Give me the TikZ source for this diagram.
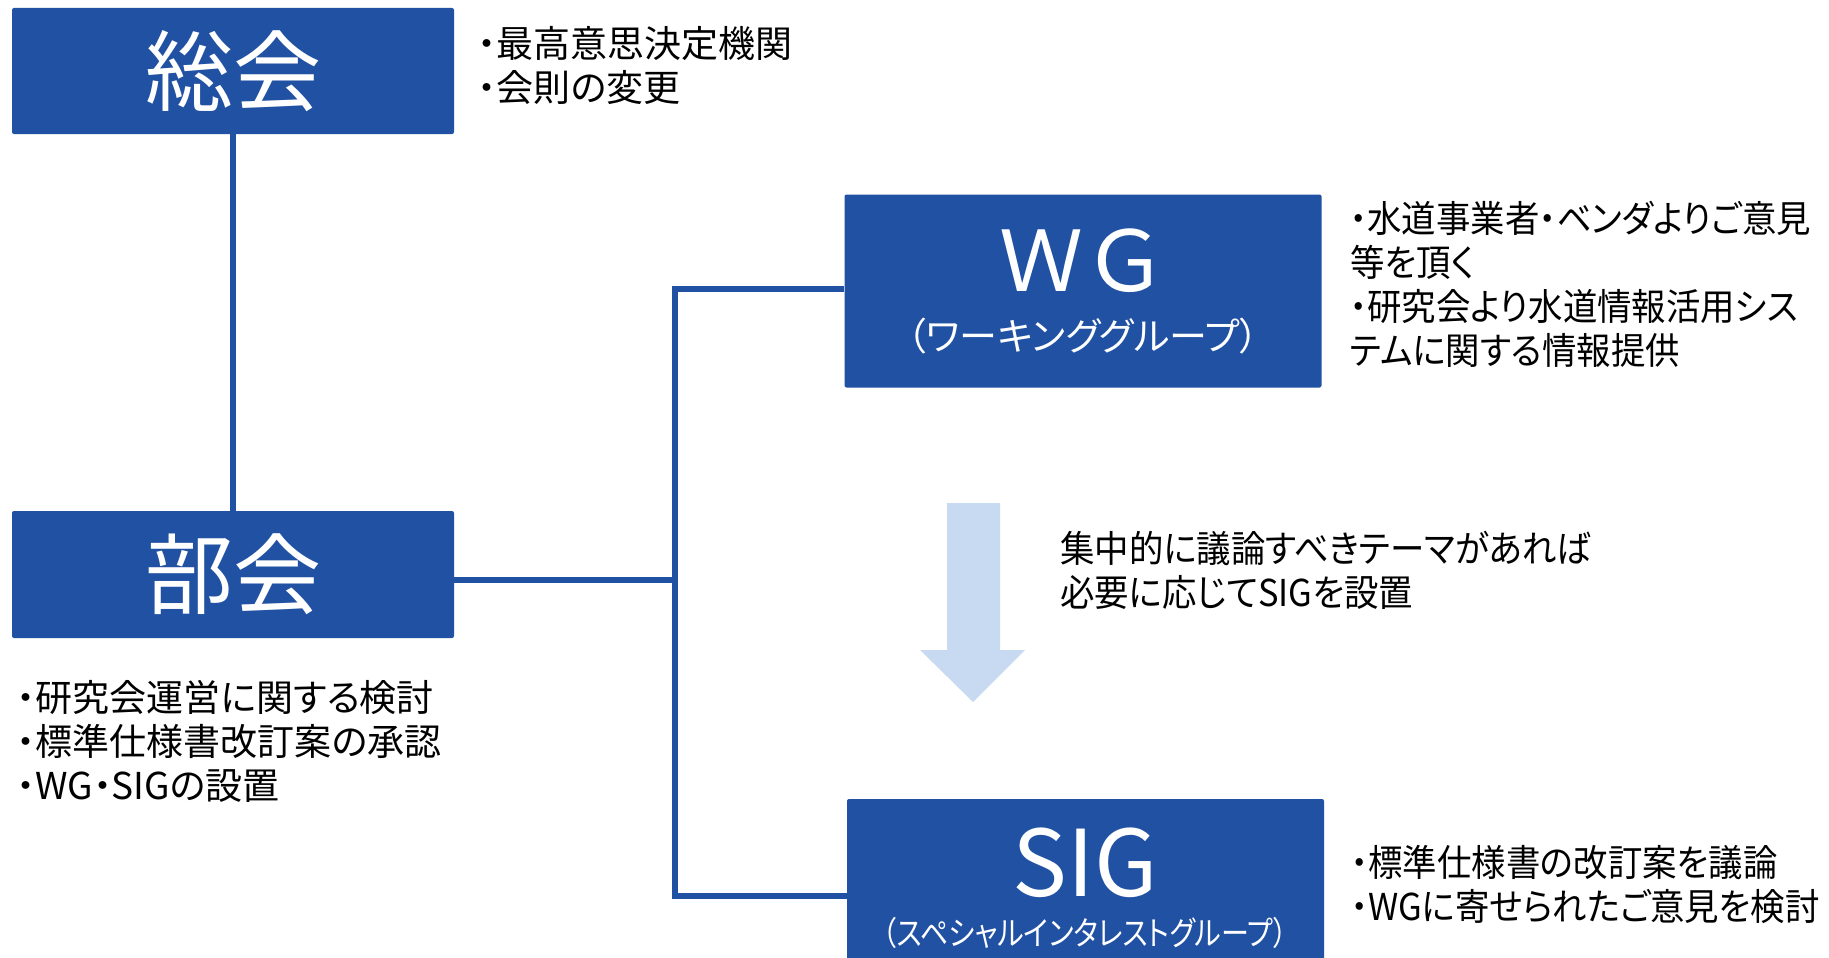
\documentclass[tikz,border=0pt]{standalone}
\usepackage{fontspec}
\setmainfont{Noto Sans CJK JP}[RawFeature=+palt]
\newfontfamily\jpfull{Noto Sans CJK JP}
\newfontfamily\jpdesc{Noto Sans CJK JP}[RawFeature=+palt, FakeStretch=0.93]
\newfontfamily\jpnarrow{Noto Sans CJK JP}[RawFeature=+palt, FakeStretch=0.85]
\definecolor{boxblue}{RGB}{32,81,163}
\definecolor{arrowblue}{RGB}{200,218,242}
\tikzset{
  orgbox/.style={fill=boxblue, draw=none, rounded corners=2pt, text=white, inner sep=0pt},
  link/.style={draw=boxblue, line width=5.5pt},
  desc/.style={anchor=north west, align=left, inner sep=0pt, text=black, font=\jpdesc\fontsize{37}{44}\selectfont},
  descwide/.style={desc, font=\fontsize{37}{44}\selectfont},
  title/.style={text=white, inner sep=0pt},
}
\begin{document}
\begin{tikzpicture}[x=1pt,y=-1pt]
\clip (0,0) rectangle (1829,958);
\coordinate (trunkTop) at (675,289);
\coordinate (trunkMid) at (675,580);
\coordinate (trunkBot) at (675,896);
% boxes
\node[orgbox, minimum width=442pt, minimum height=126pt, font=\jpfull\fontsize{88}{88}\selectfont] (sokai) at (233,71) {総会};
\node[orgbox, minimum width=442pt, minimum height=127pt, font=\jpfull\fontsize{88}{88}\selectfont] (bukai) at (233,574.5) {部会};
\node[orgbox, minimum width=477pt, minimum height=193pt] (wg) at (1083,291) {};
\node[orgbox, minimum width=477pt, minimum height=211pt] (sig) at (1085.5,904.5) {};
% connectors
\draw[link] (sokai.south) -- (bukai.north);
\draw[link] (bukai.east |- trunkMid) -- (trunkMid);
\draw[link] (wg.west |- trunkTop) -- (trunkTop) -- (trunkBot) -- (sig.west |- trunkBot);
% titles
\node[title, font=\jpfull\fontsize{84}{84}\selectfont] (wgt) at (1083,261) {ＷＧ};
\node[title, font=\fontsize{38}{38}\selectfont] (wgs) at (1083,336) {（ワーキンググループ）};
\node[title, font=\jpfull\fontsize{92}{92}\selectfont] (sigt) at (1085,863) {SIG};
\node[title, font=\jpnarrow\fontsize{33}{33}\selectfont] (sigs) at (1085,933) {（スペシャルインタレストグループ）};
% arrow
\fill[arrowblue] (947,503) -- (1000,503) -- (1000,650) -- (1025,650) -- (973,702) -- (920,650) -- (947,650) -- cycle;
% descriptions
\node[descwide] (d1) at (478,26) {・最高意思決定機関\\・会則の変更};
\node[descwide] (d2) at (17,680) {・研究会運営に関する検討\\・標準仕様書改訂案の承認\\・WG・SIGの設置};
\node[desc] (d3) at (1350,201) {・水道事業者・ベンダよりご意見\\等を頂く\\・研究会より水道情報活用シス\\テムに関する情報提供};
\node[desc] (d4) at (1060,531) {集中的に議論すべきテーマがあれば\\必要に応じてSIGを設置};
\node[desc] (d5) at (1351,845) {・標準仕様書の改訂案を議論\\・WGに寄せられたご意見を検討};
\end{tikzpicture}
\end{document}
